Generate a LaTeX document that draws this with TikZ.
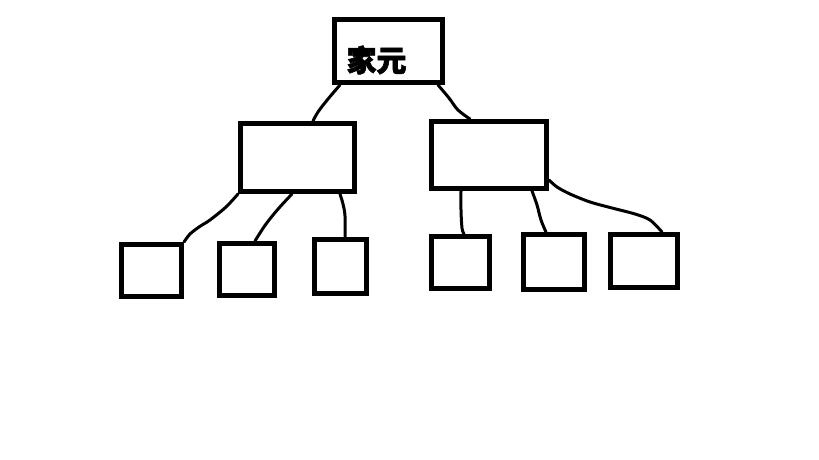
\documentclass[tikz,border=0pt]{standalone}
\usepackage{fontspec}
\newfontfamily\cjk{Noto Sans CJK SC}[FakeBold=2]
\begin{document}
\begin{tikzpicture}[x=1pt,y=-1pt,
  box/.style={draw=black,line width=5pt,fill=white,inner sep=0pt,rectangle},
  wire/.style={draw=black,line width=3pt,line cap=round,line join=round}]
\path[use as bounding box,fill=white] (0,0) rectangle (819,460);
\node[box,minimum width=108pt,minimum height=63pt] (top) at (388.5,51) {};
\node[box,minimum width=114pt,minimum height=68pt] (L) at (297.5,157.5) {};
\node[box,minimum width=115pt,minimum height=67pt] (R) at (489,155) {};
\node[box,minimum width=60pt,minimum height=52pt] (b1) at (151.5,270.5) {};
\node[box,minimum width=55pt,minimum height=52pt] (b2) at (247,269.5) {};
\node[box,minimum width=52pt,minimum height=54pt] (b3) at (340.5,266.5) {};
\node[box,minimum width=58pt,minimum height=52pt] (b4) at (460.5,262.5) {};
\node[box,minimum width=61pt,minimum height=55pt] (b5) at (554,262) {};
\node[box,minimum width=67pt,minimum height=53pt] (b6) at (644,261) {};
\node[inner sep=0pt,font=\cjk\bfseries\fontsize{30pt}{30pt}\selectfont] (t) at (376.5,60) {家元};
% connectors
\draw[wire] plot[smooth,tension=0.6] coordinates {([xshift=-48.5pt]top.south) (328,99) (318,112) ([xshift=15.5pt]L.north)};
\draw[wire] plot[smooth,tension=0.6] coordinates {([xshift=49.5pt]top.south) (449,98) (458,110) ([xshift=-19pt]R.north)};
\draw[wire] plot[smooth,tension=0.5] coordinates {(L.south west) (226,207) (210,220) (199,227) (190,234) (b1.north east)};
\draw[wire] plot[smooth,tension=0.6] coordinates {([xshift=-5.5pt]L.south) (279,208) (266,224) ([xshift=8pt]b2.north)};
\draw[wire] plot[smooth,tension=0.6] coordinates {([xshift=42.5pt]L.south) (343,204) (345,216) ([xshift=4.5pt]b3.north)};
\draw[wire] plot[smooth,tension=0.6] coordinates {([xshift=-28pt]R.south) (461,210) (462,228) ([xshift=3.5pt]b4.north)};
\draw[wire] plot[smooth,tension=0.6] coordinates {([xshift=43pt]R.south) (537,205) (541,220) ([xshift=-8pt]b5.north)};
\draw[wire] plot[smooth,tension=0.5] coordinates {([yshift=-25pt]R.east) (557,187) (570,194) (590,202) (612,208) (635,214) (650,220) ([xshift=18pt]b6.north)};
\end{tikzpicture}
\end{document}
